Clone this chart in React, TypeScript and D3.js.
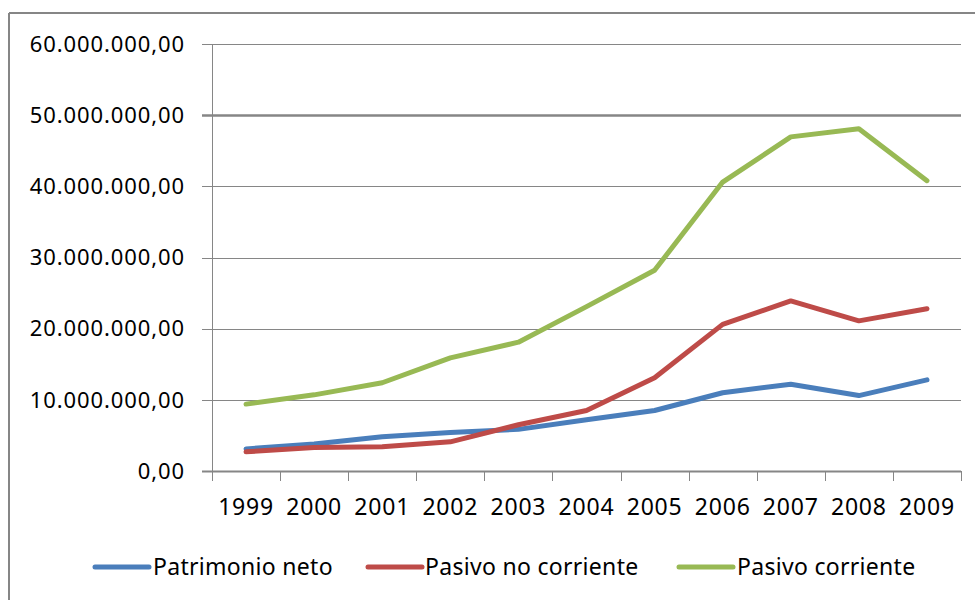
import React from "react";
import * as d3 from "d3";

const years = ["1999", "2000", "2001", "2002", "2003", "2004", "2005", "2006", "2007", "2008", "2009"];
const patrimonioNeto = [3.1, 3.8, 4.8, 5.4, 5.85, 7.2, 8.5, 11.0, 12.2, 10.6, 12.8].map((v) => v * 1e6);
const pasivoNoCorriente = [2.7, 3.3, 3.4, 4.1, 6.5, 8.5, 13.1, 20.6, 23.9, 21.1, 22.8].map((v) => v * 1e6);
const pasivoCorriente = [9.4, 10.7, 12.4, 15.9, 18.1, 23.1, 28.2, 40.6, 46.95, 48.1, 40.8].map((v) => v * 1e6);
const yTicks = [0, 10e6, 20e6, 30e6, 40e6, 50e6, 60e6];
const seriesNames = ["Patrimonio neto", "Pasivo no corriente", "Pasivo corriente"];
const seriesColors = ["#4A7EBB", "#BE4B48", "#98B954"];

const W = 975;
const H = 600;
const plot = { left: 212, right: 961, top: 44, bottom: 471 };
const FONT = "'Noto Sans', 'Open Sans', sans-serif";

function fmt(v: number) {
  const s = d3.format(",.2f")(v);
  return s.replace(/,/g, "#").replace(/\./g, ",").replace(/#/g, ".");
}

export default function App() {
  const x = d3.scaleBand<string>().domain(years).range([plot.left, plot.right]).padding(0);
  const y = d3.scaleLinear().domain([0, 60e6]).range([plot.bottom, plot.top]);
  const line = d3
    .line<number>()
    .x((_, i) => (x(years[i]) as number) + x.bandwidth() / 2)
    .y((d) => y(d));
  const data = [patrimonioNeto, pasivoNoCorriente, pasivoCorriente];
  const boundaries = years.map((yr) => x(yr) as number).concat([plot.right]);

  const legendItems = [
    { lx: 95, tx: 153 },
    { lx: 368, tx: 425 },
    { lx: 679, tx: 737 },
  ];

  return (
    <svg
      width={W}
      height={H}
      style={{ position: "absolute", left: 0, top: 0, background: "#fff" }}
      fontFamily={FONT}
    >
      <rect x={0} y={0} width={W} height={H} fill="#fff" />
      {/* outer frame */}
      <line x1={9} y1={13} x2={W} y2={13} stroke="#868686" strokeWidth={2} />
      <line x1={9} y1={13} x2={9} y2={H} stroke="#868686" strokeWidth={2} />

      {/* gridlines and y ticks */}
      {yTicks.map((t) => (
        <g key={t}>
          <line
            x1={plot.left - 10}
            x2={plot.right}
            y1={Math.round(y(t)) + 0.5}
            y2={Math.round(y(t)) + 0.5}
            stroke="#868686"
            strokeWidth={t === 50e6 ? 2.5 : t === 0 ? 2 : 1}
          />
          <text
            x={185}
            y={y(t)}
            dy="0.35em"
            textAnchor="end"
            fontSize={22}
            letterSpacing={0.9}
            fill="#000"
          >
            {fmt(t)}
          </text>
        </g>
      ))}
      {/* y axis line */}
      <line x1={plot.left + 0.5} x2={plot.left + 0.5} y1={plot.top} y2={plot.bottom + 10} stroke="#868686" strokeWidth={1} />
      {/* x ticks */}
      {boundaries.map((b, i) => (
        <line key={i} x1={Math.round(b) + 0.5} x2={Math.round(b) + 0.5} y1={plot.bottom} y2={plot.bottom + 10} stroke="#868686" strokeWidth={1} />
      ))}
      {years.map((yr) => (
        <text
          key={yr}
          x={(x(yr) as number) + x.bandwidth() / 2}
          y={515}
          textAnchor="middle"
          fontSize={23}
          letterSpacing={0.8}
          fill="#000"
        >
          {yr}
        </text>
      ))}

      {/* series */}
      {data.map((d, i) => (
        <path key={i} d={line(d) as string} fill="none" stroke={seriesColors[i]} strokeWidth={5} strokeLinejoin="round" strokeLinecap="round" />
      ))}

      {/* legend */}
      {legendItems.map((it, i) => (
        <g key={i}>
          <line x1={it.lx} x2={it.lx + 54} y1={567} y2={567} stroke={seriesColors[i]} strokeWidth={5} strokeLinecap="round" />
          <text x={it.tx} y={567} dy="0.35em" fontSize={23} letterSpacing={0.3} fill="#000">
            {seriesNames[i]}
          </text>
        </g>
      ))}
    </svg>
  );
}
